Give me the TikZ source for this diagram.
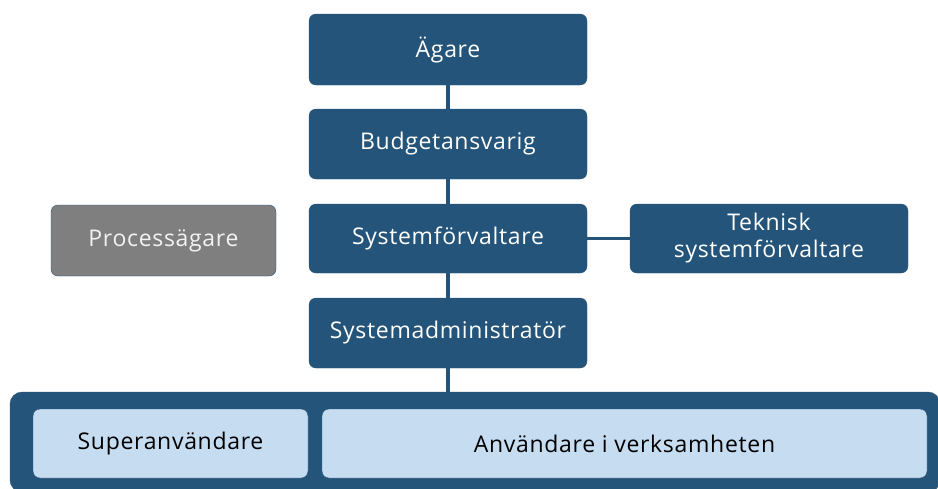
\documentclass[tikz,border=0pt]{standalone}
\usepackage{fontspec}
\setmainfont{Open Sans}[LetterSpace=3]
\definecolor{dblue}{HTML}{245479}
\definecolor{lblue}{HTML}{C6DCF0}
\definecolor{pgray}{HTML}{7F7F7F}
\begin{document}
\begin{tikzpicture}[x=1pt,y=-1pt,
  role/.style={draw=dblue,fill=dblue,rounded corners=7pt,text=white,align=center,font=\fontsize{23}{27}\selectfont,inner sep=0pt},
  user/.style={draw=dblue,fill=lblue,rounded corners=7pt,text=black,align=center,font=\fontsize{23}{27}\selectfont,inner sep=0pt},
  gray/.style={draw=dblue,fill=pgray,rounded corners=7pt,text=white!95!black,align=center,font=\fontsize{23}{27}\selectfont,inner sep=0pt},
  link/.style={draw=dblue,line width=3.5pt}]
\useasboundingbox (0,0) rectangle (938,488);
% outer container
\node[draw=dblue,fill=dblue,rounded corners=12pt,minimum width=930pt,minimum height=100pt,inner sep=0pt] (outer) at (475,442) {};
\node[role,minimum width=278pt,minimum height=71pt] (agare) at (448,49.5) {Ägare};
\node[role,minimum width=278pt,minimum height=70pt] (budget) at (448,144) {Budgetansvarig};
\node[role,minimum width=278pt,minimum height=69pt] (sysf) at (448,238.5) {Systemförvaltare};
\node[role,minimum width=278pt,minimum height=70pt] (sysa) at (448,333) {Systemadministratör};
\node[gray,minimum width=225pt,minimum height=71pt] (proc) at (163.5,240.5) {Processägare};
\node[role,minimum width=278pt,minimum height=69pt] (tek) at (769,238.5) {Teknisk\\systemförvaltare};
\node[user,minimum width=275pt,minimum height=69pt] (super) at (170.5,443.5) {Superanvändare};
\node[user,minimum width=605pt,minimum height=69pt] (anv) at (624.5,443.5) {Användare i verksamheten};
\draw[link] (agare) -- (budget);
\draw[link] (budget) -- (sysf);
\draw[link] (sysf) -- (sysa);
\draw[link] (sysa.south) -- (sysa.south |- outer.north);
\draw[link] (sysf) -- (tek);
\end{tikzpicture}
\end{document}
